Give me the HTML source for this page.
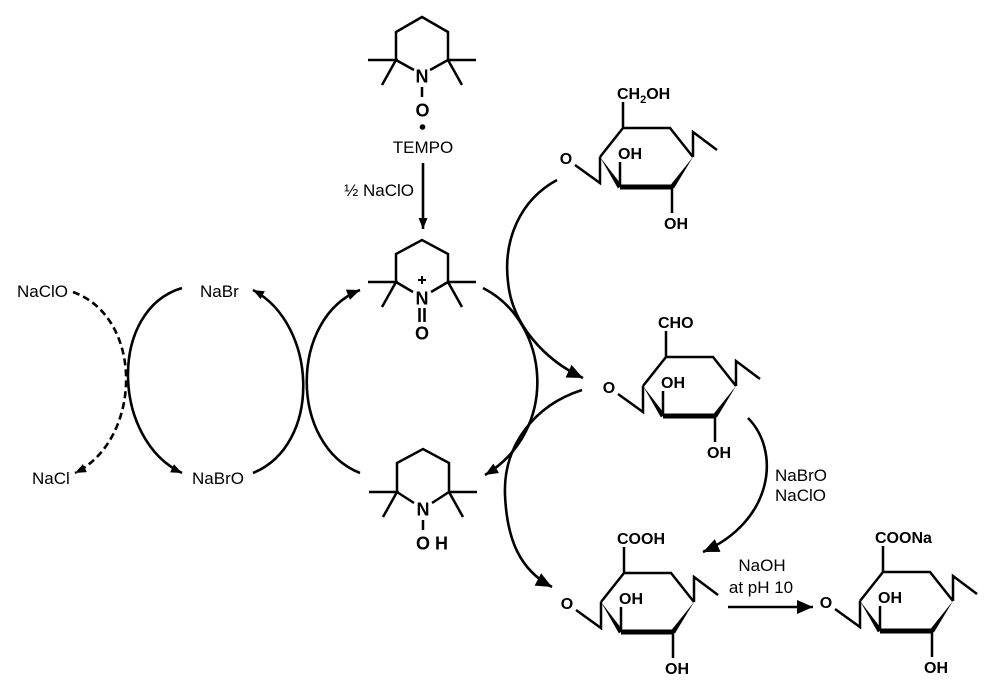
<!DOCTYPE html>
<html>
<head>
<meta charset="utf-8">
<style>
html,body{margin:0;padding:0;background:#fff;}
svg{display:block;}
text{font-family:"Liberation Sans",Arial,sans-serif;fill:#000;}
.a{font-size:18px;font-weight:bold;}
.g{font-size:16px;font-weight:bold;}
.r{font-size:17px;}
.ln{fill:none;stroke:#000;stroke-width:2.5;stroke-linejoin:miter;}
.arc{fill:none;stroke:#000;stroke-width:2.6;}
</style>
</head>
<body>
<svg width="1000" height="697" viewBox="0 0 1000 697" xmlns="http://www.w3.org/2000/svg">
<rect width="1000" height="697" fill="#fff"/>
<defs>
<marker id="big" markerUnits="userSpaceOnUse" markerWidth="20" markerHeight="16" refX="16" refY="7" orient="auto" overflow="visible"><path d="M0,0 L16,7 L0,14 z" fill="#000"/></marker>
<marker id="med" markerUnits="userSpaceOnUse" markerWidth="16" markerHeight="14" refX="13" refY="5.5" orient="auto" overflow="visible"><path d="M0,0 L13,5.5 L0,11 z" fill="#000"/></marker>
<marker id="sm" markerUnits="userSpaceOnUse" markerWidth="14" markerHeight="12" refX="11" refY="4.5" orient="auto" overflow="visible"><path d="M0,0 L11,4.5 L0,9 z" fill="#000"/></marker>
</defs>

<!-- TEMPO (top) -->
<g transform="translate(422,76)">
<path class="ln" d="M-54,-16 L-26,-16 L-40,9 M-26,-16 L-26,-44 L0,-59 L26,-44 L26,-16 L54,-16 M26,-16 L40,9 M-26,-16 L-8,-6 M26,-16 L8,-6 M0,11 L0,21"/>
<text class="a" x="0" y="6.5" text-anchor="middle">N</text>
<text class="a" x="0.5" y="40.5" text-anchor="middle">O</text>
<circle cx="0.5" cy="51" r="2.8" fill="#000"/>
</g>
<text class="r" x="423" y="153" text-anchor="middle">TEMPO</text>
<text class="r" x="414" y="196" text-anchor="end">½ NaClO</text>
<path class="arc" d="M423,163 L423,229" marker-end="url(#sm)"/>

<!-- Oxoammonium -->
<g transform="translate(422,298)">
<path class="ln" d="M-54,-16 L-26,-16 L-40,9 M-26,-16 L-26,-44 L0,-58 L26,-44 L26,-16 L54,-16 M26,-16 L40,9 M-26,-16 L-9,-6 M26,-16 L9,-6 M-2.5,10 L-2.5,24 M2.5,10 L2.5,24"/>
<path d="M-4,-18 L4,-18 M0,-22 L0,-14" stroke="#000" stroke-width="2" fill="none"/>
<text class="a" x="0" y="6.5" text-anchor="middle">N</text>
<text class="a" x="0" y="41.5" text-anchor="middle">O</text>
</g>

<!-- Hydroxylamine -->
<g transform="translate(423,509)">
<path class="ln" d="M-54,-17 L-26,-17 L-40,8 M-26,-17 L-26,-46 L0,-60 L26,-46 L26,-17 L54,-17 M26,-17 L40,8 M-26,-17 L-9,-6 M26,-17 L9,-6 M0,11 L0,21"/>
<text class="a" x="0" y="6.5" text-anchor="middle">N</text>
<text class="a" x="0" y="40.5" text-anchor="middle">O</text>
<text class="a" x="18.5" y="40.5" text-anchor="middle">H</text>
</g>

<!-- Left NaBr cycle -->
<text class="r" x="17" y="297">NaClO</text>
<text class="r" x="200" y="297">NaBr</text>
<text class="r" x="32" y="484">NaCl</text>
<text class="r" x="192" y="484">NaBrO</text>
<path class="arc" d="M182,288 C108,310 112,440 182,473" marker-end="url(#sm)"/>
<path class="arc" d="M253,473 C322,445 318,325 253,290" marker-end="url(#sm)"/>
<path class="arc" d="M73,292 C145,318 142,440 75,473" stroke-dasharray="7,4" marker-end="url(#sm)"/>

<!-- Middle cycle -->
<path class="arc" d="M360,473 C289,445 289,318 360,290" marker-end="url(#med)"/>
<path class="arc" d="M483,288 C550,322 560,430 485,475" marker-end="url(#med)"/>

<!-- Cellulose arcs -->
<path class="arc" d="M557,180 C520,200 503,240 508,282 C512,325 545,360 583,378" marker-end="url(#big)"/>
<path class="arc" d="M582,390 C535,405 503,445 505,495 C507,540 520,570 552,587" marker-end="url(#big)"/>
<path class="arc" d="M748,418 C780,450 775,520 703,552" marker-end="url(#big)"/>
<text class="r" x="775" y="481">NaBrO</text>
<text class="r" x="775" y="501">NaClO</text>
<path class="arc" d="M728,607 L813,607" marker-end="url(#big)"/>
<text class="r" x="762" y="571" text-anchor="middle">NaOH</text>
<text class="r" x="761" y="593" text-anchor="middle">at pH 10</text>

<!-- Glucose 1: CH2OH -->
<g transform="translate(623,128)">
<path class="ln" d="M-23,29 L0,0 L47,0 L70,29 M0,0 L0,-26 M70,29 L70,4 L94,22 M-23,29 L-23,55 L-48,37 M-3,57 L-3,34 M49,59 L49,85"/>
<polygon points="-23,29 -0.9,57.6 -5.1,60.4" fill="#000"/>
<polygon points="-3,56.5 49,56.5 49,61.5 -3,61.5" fill="#000"/>
<polygon points="70,29 51,60.4 47,57.6" fill="#000"/>
<text class="g" x="-57" y="36" text-anchor="middle">O</text>
<text class="g" x="7" y="31" text-anchor="middle">OH</text>
<text class="g" x="53" y="101" text-anchor="middle">OH</text>
<text class="g" x="-6" y="-29">CH<tspan font-size="11" dy="4">2</tspan><tspan dy="-4">OH</tspan></text>
</g>

<!-- Glucose 2: CHO -->
<g transform="translate(666,357)">
<path class="ln" d="M-23,29 L0,0 L47,0 L70,29 M0,0 L0,-26 M70,29 L70,4 L94,22 M-23,29 L-23,55 L-48,37 M-3,57 L-3,34 M49,59 L49,85"/>
<polygon points="-23,29 -0.9,57.6 -5.1,60.4" fill="#000"/>
<polygon points="-3,56.5 49,56.5 49,61.5 -3,61.5" fill="#000"/>
<polygon points="70,29 51,60.4 47,57.6" fill="#000"/>
<text class="g" x="-57" y="36" text-anchor="middle">O</text>
<text class="g" x="7" y="31" text-anchor="middle">OH</text>
<text class="g" x="53" y="101" text-anchor="middle">OH</text>
<text class="g" x="-8" y="-29">CHO</text>
</g>

<!-- Glucose 3: COOH -->
<g transform="translate(624,573)">
<path class="ln" d="M-23,29 L0,0 L47,0 L70,29 M0,0 L0,-26 M70,29 L70,4 L94,22 M-23,29 L-23,55 L-48,37 M-3,57 L-3,34 M49,59 L49,85"/>
<polygon points="-23,29 -0.9,57.6 -5.1,60.4" fill="#000"/>
<polygon points="-3,56.5 49,56.5 49,61.5 -3,61.5" fill="#000"/>
<polygon points="70,29 51,60.4 47,57.6" fill="#000"/>
<text class="g" x="-57" y="36" text-anchor="middle">O</text>
<text class="g" x="7" y="31" text-anchor="middle">OH</text>
<text class="g" x="53" y="101" text-anchor="middle">OH</text>
<text class="g" x="-7" y="-29">COOH</text>
</g>

<!-- Glucose 4: COONa -->
<g transform="translate(883,572)">
<path class="ln" d="M-23,29 L0,0 L47,0 L70,29 M0,0 L0,-26 M70,29 L70,4 L94,22 M-23,29 L-23,55 L-48,37 M-3,57 L-3,34 M49,59 L49,85"/>
<polygon points="-23,29 -0.9,57.6 -5.1,60.4" fill="#000"/>
<polygon points="-3,56.5 49,56.5 49,61.5 -3,61.5" fill="#000"/>
<polygon points="70,29 51,60.4 47,57.6" fill="#000"/>
<text class="g" x="-57" y="36" text-anchor="middle">O</text>
<text class="g" x="7" y="31" text-anchor="middle">OH</text>
<text class="g" x="53" y="101" text-anchor="middle">OH</text>
<text class="g" x="-8" y="-29">COONa</text>
</g>
</svg>
</body>
</html>
